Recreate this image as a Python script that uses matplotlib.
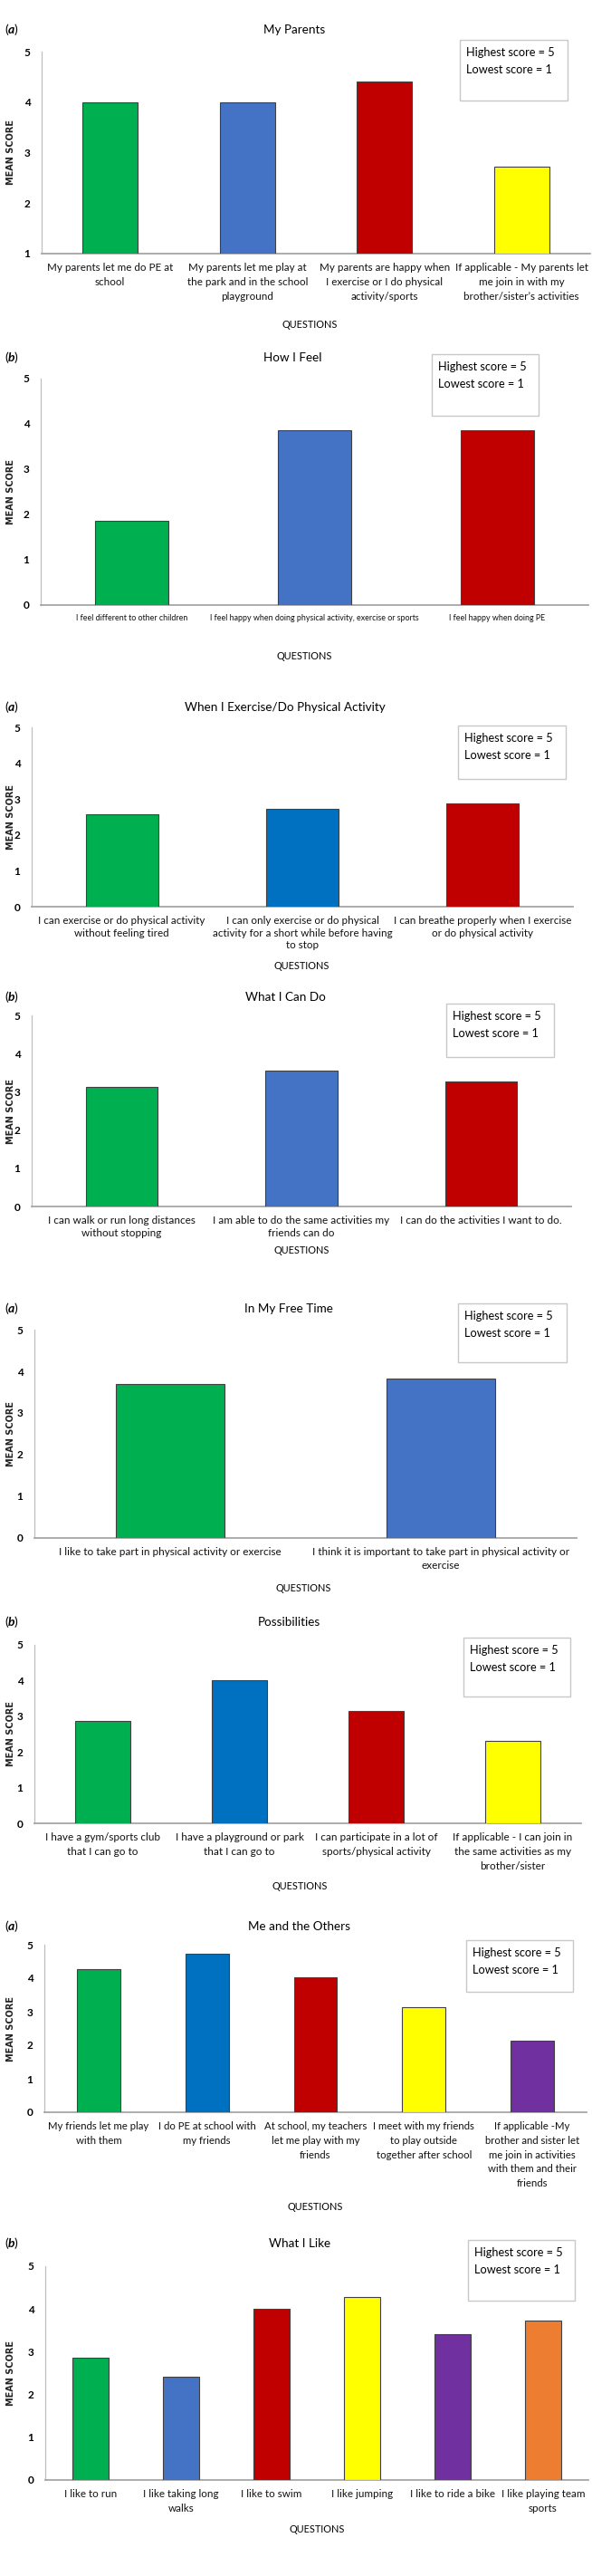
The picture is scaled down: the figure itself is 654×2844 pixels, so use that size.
import matplotlib.pyplot as plt
from matplotlib.patches import Rectangle

# 1. DATA ---------------------------------------------------------------
p1_title = "My Parents"
p1_labels = ["My parents let me do PE at\nschool",
             "My parents let me play at\nthe park and in the school\nplayground",
             "My parents are happy when\nI exercise or I do physical\nactivity/sports",
             "If applicable - My parents let\nme join in with my\nbrother/sister\u2019s activities"]
p1_values = [4.0, 4.0, 4.41, 2.73]

p2_title = "How I Feel"
p2_labels = ["I feel different to other children",
             "I feel happy when doing physical activity, exercise or sports",
             "I feel happy when doing PE"]
p2_values = [1.86, 3.86, 3.86]

p3_title = "When I Exercise/Do Physical Activity"
p3_labels = ["I can exercise or do physical activity\nwithout feeling tired",
             "I can only exercise or do physical\nactivity for a short while before having\nto stop",
             "I can breathe properly when I exercise\nor do physical activity"]
p3_values = [2.58, 2.73, 2.88]

p4_title = "What I Can Do"
p4_labels = ["I can walk or run long distances\nwithout stopping",
             "I am able to do the same activities my\nfriends can do",
             "I can do the activities I want to do."]
p4_values = [3.13, 3.55, 3.27]

p5_title = "In My Free Time"
p5_labels = ["I like to take part in physical activity or exercise",
             "I think it is important to take part in physical activity or\nexercise"]
p5_values = [3.70, 3.83]

p6_title = "Possibilities"
p6_labels = ["I have a gym/sports club\nthat I can go to",
             "I have a playground or park\nthat I can go to",
             "I can participate in a lot of\nsports/physical activity",
             "If applicable - I can join in\nthe same activities as my\nbrother/sister"]
p6_values = [2.87, 4.0, 3.15, 2.32]

p7_title = "Me and the Others"
p7_labels = ["My friends let me play\nwith them",
             "I do PE at school with\nmy friends",
             "At school, my teachers\nlet me play with my\nfriends",
             "I meet with my friends\nto play outside\ntogether after school",
             "If applicable -My\nbrother and sister let\nme join in activities\nwith them and their\nfriends"]
p7_values = [4.28, 4.72, 4.02, 3.13, 2.14]

p8_title = "What I Like"
p8_labels = ["I like to run", "I like taking long\nwalks", "I like to swim",
             "I like jumping", "I like to ride a bike", "I like playing team\nsports"]
p8_values = [2.86, 2.42, 4.0, 4.28, 3.41, 3.72]

letters = ["a", "b", "a", "b", "a", "b", "a", "b"]
note_lines = ["Highest score = 5", "Lowest score = 1"]

# 2. STYLE / LAYOUT -----------------------------------------------------
GREEN, BLUE, DBLUE, RED = "#00B050", "#4472C4", "#0070C0", "#C00000"
YELLOW, PURPLE, ORANGE = "#FFFF00", "#7030A0", "#ED7D31"

W, H = 654, 2844
plt.rcParams["font.family"] = ["Lato", "DejaVu Sans"]

# axes px (x0, x1, ytop, ybot), title (x, y), box (x0, x1, y0, y1), xlabel (x, y),
# fit = (sample tick line, its width px in the reference), lsp = line pitch px
panels = [
    dict(title=p1_title, labels=p1_labels, values=p1_values, colors=[GREEN, BLUE, RED, YELLOW],
         ymin=1, ax=(46, 652, 57, 280), t=(325, 33), box=(508, 627, 44, 111), q=(342, 358),
         fit=("My parents let me do PE at", 138), lsp=17),
    dict(title=p2_title, labels=p2_labels, values=p2_values, colors=[GREEN, BLUE, RED],
         ymin=0, ax=(45, 650, 418, 668), t=(323, 395), box=(477, 595, 391, 459), q=(336, 725),
         fit=("I feel different to other children", 124), lsp=12),
    dict(title=p3_title, labels=p3_labels, values=p3_values, colors=[GREEN, DBLUE, RED],
         ymin=0, ax=(35, 633, 803, 1001), t=(315, 781), box=(506, 625, 801, 860), q=(333, 1066),
         fit=("I can exercise or do physical activity", 183), lsp=14.5),
    dict(title=p4_title, labels=p4_labels, values=p4_values, colors=[GREEN, BLUE, RED],
         ymin=0, ax=(35, 631, 1121, 1332), t=(315, 1101), box=(493, 612, 1108, 1167), q=(333, 1381),
         fit=("I am able to do the same activities my", 194), lsp=15),
    dict(title=p5_title, labels=p5_labels, values=p5_values, colors=[GREEN, BLUE],
         ymin=0, ax=(38, 637, 1468, 1698), t=(319, 1445), box=(506, 626, 1439, 1504), q=(335, 1753),
         fit=("I like to take part in physical activity or exercise", 244), lsp=16),
    dict(title=p6_title, labels=p6_labels, values=p6_values, colors=[GREEN, DBLUE, RED, YELLOW],
         ymin=0, ax=(38, 642, 1816, 2013), t=(319, 1791), box=(512, 630, 1808, 1873), q=(331, 2083),
         fit=("I have a playground or park", 141), lsp=17),
    dict(title=p7_title, labels=p7_labels, values=p7_values, colors=[GREEN, DBLUE, RED, YELLOW, PURPLE],
         ymin=0, ax=(49, 648, 2147, 2332), t=(331, 2127), box=(515, 633, 2142, 2199), q=(348, 2436),
         fit=("I do PE at school with", 108), lsp=17),
    dict(title=p8_title, labels=p8_labels, values=p8_values, colors=[GREEN, BLUE, RED, YELLOW, PURPLE, ORANGE],
         ymin=0, ax=(50, 650, 2502, 2738), t=(331, 2477), box=(517, 635, 2473, 2540), q=(350, 2793),
         fit=("I like playing team", 92), lsp=17),
]


def fx(x):
    return x / W


def fy(y):
    return 1 - y / H


# 3. PLOT ---------------------------------------------------------------
fig = plt.figure(figsize=(W / 100, H / 100), dpi=100)
renderer = fig.canvas.get_renderer()


def text_size(s, **kw):
    t = fig.text(0, 0, s, **kw)
    bb = t.get_window_extent(renderer)
    t.remove()
    return bb.width, bb.height


def fit_size(s, target_px, **kw):
    w, _ = text_size(s, fontsize=10, **kw)
    return 10 * target_px / w


def linespacing_for(fs, pitch_px):
    _, h1 = text_size("Ag", fontsize=fs, linespacing=1.0)
    _, h2 = text_size("Ag\nAg", fontsize=fs, linespacing=1.0)
    return pitch_px / (h2 - h1)


title_fs = (fit_size("My Parents", 68) + fit_size("When I Exercise/Do Physical Activity", 220)) / 2
note_fs = fit_size(note_lines[0], 98)
q_fs = fit_size("QUESTIONS", 61)

for p, letter in zip(panels, letters):
    x0, x1, yt, yb = p["ax"]
    ax = fig.add_axes([fx(x0), fy(yb), (x1 - x0) / W, (yb - yt) / H])
    n = len(p["values"])
    ax.bar(range(n), [v - p["ymin"] for v in p["values"]], bottom=p["ymin"], width=0.4,
           color=p["colors"], edgecolor="#404040", linewidth=0.8, zorder=3)
    ax.set_xlim(-0.5, n - 0.5)
    ax.set_ylim(p["ymin"], 5)
    ax.set_yticks(range(p["ymin"], 6))
    ax.set_xticks(range(n))
    fs = fit_size(*p["fit"])
    ax.set_xticklabels(p["labels"], fontsize=fs, linespacing=linespacing_for(fs, p["lsp"]),
                       color="#111111")
    for lab in ax.get_yticklabels():
        lab.set_fontweight("bold")
        lab.set_fontsize(8.5)
    ax.tick_params(length=0)
    ax.tick_params(axis="x", pad=7)
    ax.tick_params(axis="y", pad=9)
    for s in ["top", "right"]:
        ax.spines[s].set_visible(False)
    ax.spines["left"].set_color("#BFBFBF")
    ax.spines["left"].set_linewidth(0.9)
    ax.spines["bottom"].set_color("#A6A6A6")
    ax.spines["bottom"].set_linewidth(1.3)

    # y label
    fig.text(fx(12), fy((yt + yb) / 2), "MEAN SCORE", rotation=90, ha="center", va="center",
             fontsize=7, fontweight="bold", family="DejaVu Sans", color="#222222")
    # title and panel letter
    tx, ty = p["t"]
    fig.text(fx(tx), fy(ty), p["title"], ha="center", va="center", fontsize=title_fs)
    fig.text(fx(5), fy(ty), "(", ha="left", va="center", fontsize=10)
    fig.text(fx(9), fy(ty), letter, ha="left", va="center", fontsize=10,
             fontweight="bold", style="italic")
    fig.text(fx(16), fy(ty), ")", ha="left", va="center", fontsize=10)
    # score note box
    bx0, bx1, by0, by1 = p["box"]
    fig.add_artist(Rectangle((fx(bx0), fy(by1)), (bx1 - bx0) / W, (by1 - by0) / H,
                             transform=fig.transFigure, facecolor="white",
                             edgecolor="#C8C8C8", linewidth=1.0))
    for i, line in enumerate(note_lines):
        fig.text(fx(bx0 + 7), fy(by0 + 14 + i * 19), line, ha="left", va="center", fontsize=note_fs)
    # x label
    qx, qy = p["q"]
    fig.text(fx(qx), fy(qy), "QUESTIONS", ha="center", va="center", fontsize=q_fs)

fig.savefig("out.png", dpi=100, facecolor="white")
